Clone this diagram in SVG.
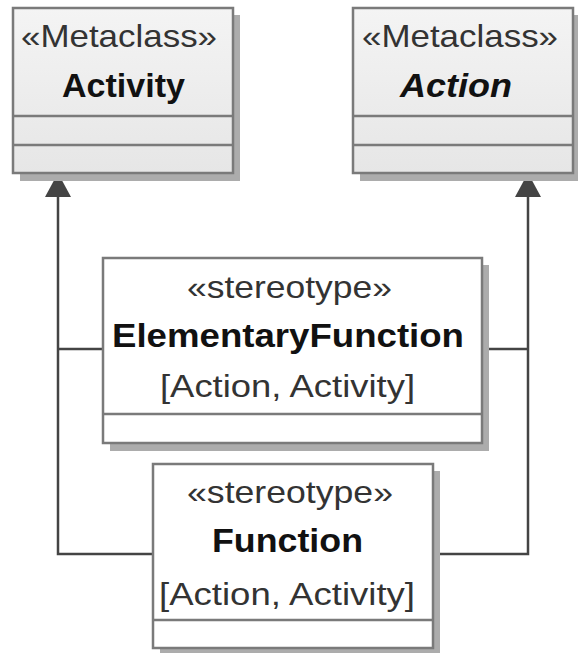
<svg xmlns="http://www.w3.org/2000/svg" width="578" height="653" viewBox="0 0 578 653">
<defs>
<linearGradient id="meta" x1="0" y1="0" x2="0" y2="1">
<stop offset="0" stop-color="#f4f4f4"/>
<stop offset="1" stop-color="#e6e6e6"/>
</linearGradient>
</defs>
<style>
.shadow{fill:#acacac}
.meta{fill:url(#meta);stroke:#7a7a7a;stroke-width:2.5}
.ster{fill:#ffffff;stroke:#7a7a7a;stroke-width:2.5}
.sep{stroke:#7a7a7a;stroke-width:2.5}
.t{font-family:"Liberation Sans",Arial,sans-serif;text-anchor:middle}
.st{font-size:32px;fill:#333}
.nm{font-size:34px;font-weight:bold;fill:#111}
.con{fill:none;stroke:#444;stroke-width:2.5}
.head{fill:#444}
</style>
<g id="connectors">
<path class="con" d="M58 197 L58 554 L153 554 M58 349 L103 349"/>
<path class="con" d="M528 197 L528 554 L433 554 M528 349 L482 349"/>
<path class="head" d="M58 173 L71 197 L45 197 Z"/>
<path class="head" d="M528 173 L541 197 L515 197 Z"/>
</g>
<g id="activity">
<rect class="shadow" x="20" y="15" width="220" height="166"/>
<rect class="meta" x="13" y="8" width="220" height="165"/>
<line class="sep" x1="13" y1="116" x2="233" y2="116"/>
<line class="sep" x1="13" y1="145" x2="233" y2="145"/>
<text class="t st" x="119" y="47" textLength="196" lengthAdjust="spacingAndGlyphs">«Metaclass»</text>
<text class="t nm" x="123.5" y="97" textLength="123" lengthAdjust="spacingAndGlyphs">Activity</text>
</g>
<g id="action">
<rect class="shadow" x="360" y="15" width="220" height="166"/>
<rect class="meta" x="353" y="8" width="220" height="165"/>
<line class="sep" x1="353" y1="116" x2="573" y2="116"/>
<line class="sep" x1="353" y1="145" x2="573" y2="145"/>
<text class="t st" x="460" y="47" textLength="196" lengthAdjust="spacingAndGlyphs">«Metaclass»</text>
<text class="t nm" x="456" y="97" font-style="italic" textLength="112" lengthAdjust="spacingAndGlyphs">Action</text>
</g>
<g id="elementaryFunction">
<rect class="shadow" x="110" y="265" width="379" height="186"/>
<rect class="ster" x="103" y="258" width="379" height="185"/>
<line class="sep" x1="103" y1="414" x2="482" y2="414"/>
<text class="t st" x="289.5" y="298" textLength="205" lengthAdjust="spacingAndGlyphs">«stereotype»</text>
<text class="t nm" x="288" y="347" textLength="352" lengthAdjust="spacingAndGlyphs">ElementaryFunction</text>
<text class="t st" x="287.5" y="397" textLength="255" lengthAdjust="spacingAndGlyphs">[Action, Activity]</text>
</g>
<g id="function">
<rect class="shadow" x="160" y="471" width="280" height="184"/>
<rect class="ster" x="153" y="464" width="280" height="184"/>
<line class="sep" x1="153" y1="620" x2="433" y2="620"/>
<text class="t st" x="290" y="503" textLength="206" lengthAdjust="spacingAndGlyphs">«stereotype»</text>
<text class="t nm" x="287.5" y="552" textLength="151" lengthAdjust="spacingAndGlyphs">Function</text>
<text class="t st" x="287" y="605" textLength="256" lengthAdjust="spacingAndGlyphs">[Action, Activity]</text>
</g>
</svg>
